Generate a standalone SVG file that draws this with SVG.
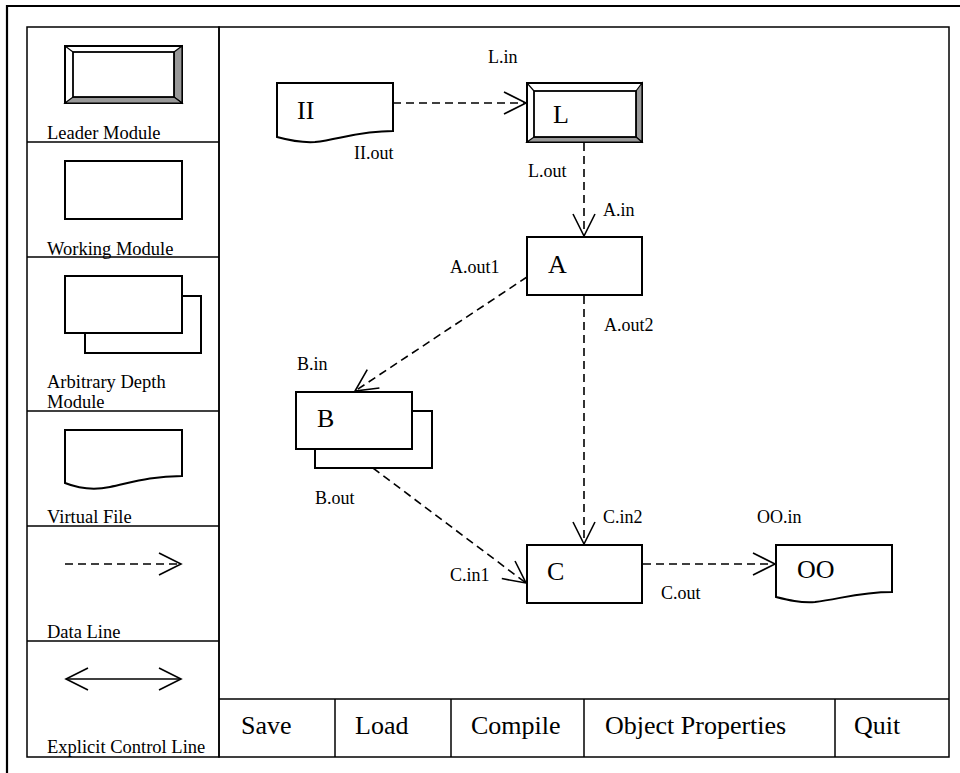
<svg xmlns="http://www.w3.org/2000/svg" width="960" height="773" viewBox="0 0 960 773">
<style>
.frame{fill:none;stroke:#000;stroke-width:1.5}
.box{fill:#fff;stroke:#000;stroke-width:2}
.bev{stroke:#000;stroke-width:1.2}
.dash{fill:none;stroke:#000;stroke-width:1.6;stroke-dasharray:8,5}
.solid{fill:none;stroke:#000;stroke-width:1.6}
.big{font-family:"Liberation Serif","Times New Roman",serif;font-size:26px;fill:#000}
.port{font-family:"Liberation Serif","Times New Roman",serif;font-size:18px;fill:#000}
.pal{font-family:"Liberation Serif","Times New Roman",serif;font-size:18.5px;fill:#000}
</style>
<defs>
<marker id="v" markerUnits="userSpaceOnUse" markerWidth="30" markerHeight="30" viewBox="-25 -15 30 30" refX="0" refY="0" orient="auto-start-reverse">
<path d="M-22,-11 L0,0 L-22,11" fill="none" stroke="#000" stroke-width="1.6"/>
</marker>
</defs>
<rect x="0" y="0" width="960" height="773" fill="#fff"/>
<g id="outer-frame">
<path d="M7,773 L7,6 L960,6" fill="none" stroke="#000" stroke-width="2.2"/>
</g>
<g id="palette">
<rect class="frame" x="27" y="27" width="192" height="730"/>
<line class="frame" x1="27" y1="142" x2="219" y2="142"/>
<line class="frame" x1="27" y1="257" x2="219" y2="257"/>
<line class="frame" x1="27" y1="411" x2="219" y2="411"/>
<line class="frame" x1="27" y1="526" x2="219" y2="526"/>
<line class="frame" x1="27" y1="641" x2="219" y2="641"/>
<g id="pal-leader">
<rect x="65" y="46" width="117" height="57" fill="#fff" stroke="#000" stroke-width="2"/>
<polygon points="174,52 182,46 182,103 174,97" fill="#999" class="bev"/>
<polygon points="73,97 174,97 182,103 65,103" fill="#999" class="bev"/>
<line x1="65" y1="46" x2="73" y2="52" class="bev"/>
<rect x="73" y="52" width="101" height="45" fill="#fff" stroke="#000" stroke-width="1.8"/>
<text class="pal" x="47" y="139">Leader Module</text>
</g>
<g id="pal-working">
<rect class="box" x="65" y="161" width="117" height="58"/>
<text class="pal" x="47" y="255">Working Module</text>
</g>
<g id="pal-arbitrary">
<rect class="box" x="85" y="296" width="116" height="57"/>
<rect class="box" x="65" y="276" width="117" height="57"/>
<text class="pal" x="47" y="388">Arbitrary Depth</text>
<text class="pal" x="47" y="408">Module</text>
</g>
<g id="pal-file">
<path class="box" d="M65,430 L182,430 L182,476 C150,476 130,483 110,487 C95,490 80,489 65,483 Z"/>
<text class="pal" x="47" y="523">Virtual File</text>
</g>
<g id="pal-data">
<line class="dash" x1="65" y1="564" x2="181" y2="564" marker-end="url(#v)"/>
<text class="pal" x="47" y="638">Data Line</text>
</g>
<g id="pal-control">
<line class="solid" x1="66" y1="679" x2="181" y2="679" marker-start="url(#v)" marker-end="url(#v)"/>
<text class="pal" x="47" y="753">Explicit Control Line</text>
</g>
</g>
<g id="canvas">
<rect class="frame" x="219" y="27" width="730" height="730"/>
</g>
<g id="buttons">
<line class="frame" x1="219" y1="699" x2="949" y2="699"/>
<line class="frame" x1="335" y1="699" x2="335" y2="757"/>
<line class="frame" x1="451" y1="699" x2="451" y2="757"/>
<line class="frame" x1="584" y1="699" x2="584" y2="757"/>
<line class="frame" x1="835" y1="699" x2="835" y2="757"/>
<g id="btn-save"><text class="big" x="241" y="734">Save</text></g>
<g id="btn-load"><text class="big" x="355" y="734">Load</text></g>
<g id="btn-compile"><text class="big" x="471" y="734">Compile</text></g>
<g id="btn-props"><text class="big" x="605" y="734">Object Properties</text></g>
<g id="btn-quit"><text class="big" x="854" y="734">Quit</text></g>
</g>
<g id="connectors">
<line class="dash" x1="393" y1="103" x2="526" y2="103" marker-end="url(#v)"/>
<line class="dash" x1="584" y1="143" x2="584" y2="236" marker-end="url(#v)"/>
<line class="dash" x1="527" y1="277" x2="355" y2="391" marker-end="url(#v)"/>
<line class="dash" x1="584" y1="296" x2="584" y2="544" marker-end="url(#v)"/>
<line class="dash" x1="373" y1="468" x2="526" y2="583" marker-end="url(#v)"/>
<line class="dash" x1="643" y1="564" x2="775" y2="564" marker-end="url(#v)"/>
</g>
<g id="node-II">
<path class="box" d="M277,83 L393,83 L393,131 C360,131 340,139 315,142 C300,143 288,140 277,137 Z"/>
<text class="big" x="297" y="119">II</text>
</g>
<g id="node-L">
<rect x="527" y="83" width="115" height="59" fill="#fff" stroke="#000" stroke-width="2"/>
<polygon points="636,91 642,83 642,142 636,137" fill="#999" class="bev"/>
<polygon points="534,137 636,137 642,142 527,142" fill="#999" class="bev"/>
<line x1="527" y1="83" x2="534" y2="91" class="bev"/>
<rect x="534" y="91" width="102" height="46" fill="#fff" stroke="#000" stroke-width="1.8"/>
<text class="big" x="553" y="123">L</text>
</g>
<g id="node-A">
<rect class="box" x="527" y="237" width="115" height="58"/>
<text class="big" x="548" y="273">A</text>
</g>
<g id="node-B">
<rect class="box" x="315" y="411" width="117" height="57"/>
<rect class="box" x="296" y="392" width="116" height="57"/>
<text class="big" x="317" y="427">B</text>
</g>
<g id="node-C">
<rect class="box" x="527" y="545" width="115" height="58"/>
<text class="big" x="547" y="580">C</text>
</g>
<g id="node-OO">
<path class="box" d="M776,545 L892,545 L892,592 C860,592 840,599 815,602 C800,603 788,600 776,597 Z"/>
<text class="big" x="797" y="578">OO</text>
</g>
<g id="port-labels">
<text class="port" x="488" y="63">L.in</text>
<text class="port" x="354" y="159">II.out</text>
<text class="port" x="528" y="177">L.out</text>
<text class="port" x="603" y="216">A.in</text>
<text class="port" x="450" y="273">A.out1</text>
<text class="port" x="604" y="331">A.out2</text>
<text class="port" x="297" y="370">B.in</text>
<text class="port" x="315" y="504">B.out</text>
<text class="port" x="603" y="523">C.in2</text>
<text class="port" x="757" y="523">OO.in</text>
<text class="port" x="450" y="581">C.in1</text>
<text class="port" x="661" y="599">C.out</text>
</g>
</svg>
